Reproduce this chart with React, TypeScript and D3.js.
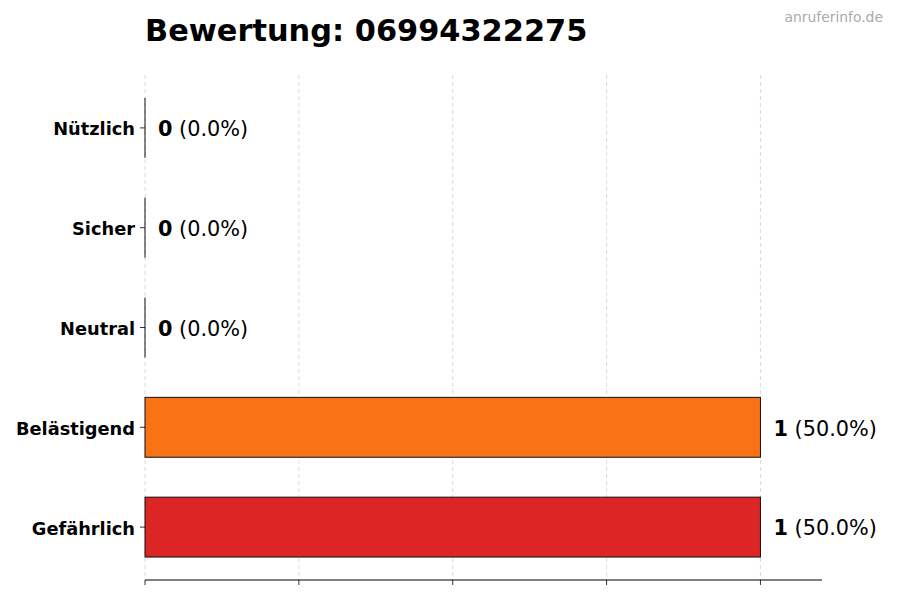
import React from "react";
import * as d3 from "d3";

const categories = ["Nützlich", "Sicher", "Neutral", "Belästigend", "Gefährlich"];
const counts = [0, 0, 0, 1, 1];
const colors = ["#22c55e", "#3b82f6", "#9ca3af", "#f97316", "#dc2626"];
const xTicks = [0, 0.25, 0.5, 0.75, 1];
const title = "Bewertung: 06994322275";
const watermark = "anruferinfo.de";

export default function App() {
  const width = 900;
  const height = 600;
  const left = 145;
  const right = 822;
  const top = 75;
  const bottom = 580;
  const total = d3.sum(counts);

  const x = d3.scaleLinear().domain([0, 1.1]).range([left, right]);
  const y = d3
    .scaleLinear()
    .domain([-0.53, categories.length - 1 + 0.53])
    .range([top, bottom]);
  const barH = y(0.3) - y(-0.3);
  const font = "DejaVu Sans, sans-serif";

  return (
    <svg
      width={width}
      height={height}
      style={{ position: "absolute", left: 0, top: 0, fontFamily: font }}
    >
      <rect width={width} height={height} fill="#fff" />
      {xTicks.map((t) => (
        <line
          key={"g" + t}
          x1={x(t)}
          x2={x(t)}
          y1={top}
          y2={bottom}
          stroke="#d0d0d0"
          strokeWidth={0.8}
          strokeDasharray="4,3"
        />
      ))}
      {categories.map((c, i) => {
        const cy = y(i);
        const v = counts[i];
        const pct = total ? (v / total) * 100 : 0;
        return (
          <g key={c}>
            {v > 0 ? (
              <rect
                x={x(0)}
                y={cy - barH / 2}
                width={x(v) - x(0)}
                height={barH}
                fill={colors[i]}
                stroke="#111"
                strokeWidth={1}
              />
            ) : (
              <line
                x1={x(0)}
                x2={x(0)}
                y1={cy - barH / 2}
                y2={cy + barH / 2}
                stroke="#111"
                strokeWidth={1}
              />
            )}
            <line x1={left - 5} x2={left} y1={cy} y2={cy} stroke="#000" strokeWidth={0.8} />
            <text
              x={left - 10}
              y={cy}
              dy="0.42em"
              textAnchor="end"
              fontSize={17.8}
              fontWeight="bold"
              fill="#000"
            >
              {c}
            </text>
            <text x={x(v) + 13} y={cy} dy="0.4em" fontSize={20.8} fill="#000">
              <tspan fontWeight="bold">{v}</tspan>
              <tspan>{` (${pct.toFixed(1)}%)`}</tspan>
            </text>
          </g>
        );
      })}
      <line x1={left} x2={right} y1={bottom} y2={bottom} stroke="#000" strokeWidth={1} />
      {xTicks.map((t) => (
        <line
          key={"t" + t}
          x1={x(t)}
          x2={x(t)}
          y1={bottom}
          y2={bottom + 5}
          stroke="#000"
          strokeWidth={0.8}
        />
      ))}
      <text x={left} y={41} fontSize={30.4} fontWeight="bold" fill="#000">
        {title}
      </text>
      <text x={883} y={22} textAnchor="end" fontSize={13.9} fill="#aaaaaa">
        {watermark}
      </text>
    </svg>
  );
}
